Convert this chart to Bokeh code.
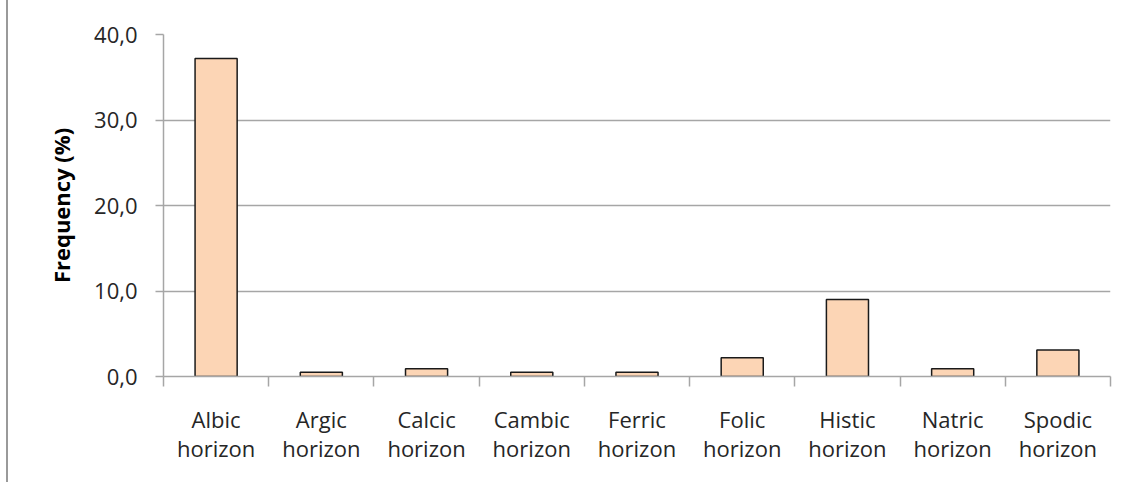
import numpy as np
from bokeh.plotting import figure
from bokeh.models import Range1d, FixedTicker, LinearAxis, ColumnDataSource
from bokeh.embed import file_html
from bokeh.resources import INLINE

categories = ["Albic horizon", "Argic horizon", "Calcic horizon", "Cambic horizon",
              "Ferric horizon", "Folic horizon", "Histic horizon", "Natric horizon",
              "Spodic horizon"]
values = [37.2, 0.5, 0.9, 0.5, 0.5, 2.2, 9.0, 0.9, 3.1]
y_ticks = [0, 10, 20, 30, 40]
y_tick_labels = ["0,0", "10,0", "20,0", "30,0", "40,0"]

n = len(categories)
centers = list(np.arange(n) + 0.5)
boundaries = list(range(n + 1))

FONT = "Open Sans"
TXT = "#262626"
GRAY = "#a6a6a6"

p = figure(width=1112, height=482, output_backend="svg", toolbar_location=None,
           x_range=Range1d(0, n), y_range=Range1d(0, 40),
           min_border_left=155, min_border_right=10, min_border_top=34, min_border_bottom=106,
           x_axis_type=None)
p.outline_line_color = None
p.styles = {"border-left": "2px solid #9a9a9a", "margin-left": "6px"}

src = ColumnDataSource(dict(x=centers, top=values, cat=categories))
p.vbar(x="x", top="top", width=0.4, bottom=0, source=src,
       fill_color="#FCD5B5", line_color="#1a1a1a", line_width=1.5)

# grid
p.xgrid.grid_line_color = None
p.ygrid.ticker = FixedTicker(ticks=y_ticks)
p.ygrid.grid_line_color = GRAY
p.ygrid.grid_line_width = 1.5

# y axis
ya = p.yaxis[0]
ya.ticker = FixedTicker(ticks=y_ticks)
ya.major_label_overrides = {t: l for t, l in zip(y_ticks, y_tick_labels)}
ya.major_label_text_font = FONT
ya.major_label_text_font_size = "22px"
ya.major_label_text_color = TXT
ya.major_label_standoff = 18
ya.major_tick_out = 8
ya.major_tick_in = 0
ya.minor_tick_out = 0
ya.minor_tick_in = 0
ya.axis_line_color = GRAY
ya.axis_line_width = 1.5
ya.major_tick_line_color = GRAY
ya.major_tick_line_width = 1.5
ya.axis_label = "Frequency (%)"
ya.axis_label_text_font = FONT
ya.axis_label_text_font_style = "bold"
ya.axis_label_text_font_size = "22px"
ya.axis_label_text_color = "#000000"
ya.axis_label_standoff = 15

# x axis with ticks at category boundaries
xa1 = LinearAxis(ticker=FixedTicker(ticks=boundaries))
xa1.major_label_overrides = {b: "" for b in boundaries}
xa1.major_label_text_font_size = "0px"
xa1.major_label_standoff = 0
xa1.major_tick_out = 10
xa1.major_tick_in = 0
xa1.minor_tick_out = 0
xa1.minor_tick_in = 0
xa1.axis_line_color = GRAY
xa1.axis_line_width = 1.5
xa1.major_tick_line_color = GRAY
xa1.major_tick_line_width = 1.5
p.add_layout(xa1, "below")

# x axis with category labels at centers
xa2 = LinearAxis(ticker=FixedTicker(ticks=centers))
xa2.major_label_overrides = {c: cat.replace(" ", "\n") for c, cat in zip(centers, categories)}
xa2.major_label_text_font = FONT
xa2.major_label_text_font_size = "22px"
xa2.major_label_text_color = TXT
xa2.major_label_text_line_height = 0.97
xa2.major_label_standoff = 17
xa2.major_tick_out = 0
xa2.major_tick_in = 0
xa2.minor_tick_out = 0
xa2.minor_tick_in = 0
xa2.axis_line_color = None
xa2.major_tick_line_color = None
p.add_layout(xa2, "below")

open("out.html", "w").write(file_html(p, INLINE))
